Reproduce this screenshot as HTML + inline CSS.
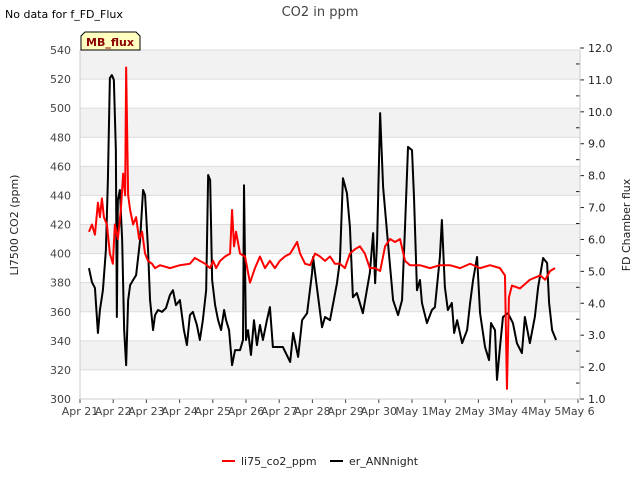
<!DOCTYPE html>
<html><head><meta charset="utf-8"><style>
body{margin:0;background:#fff;font-family:"Liberation Sans","DejaVu Sans",sans-serif}
</style></head><body>
<svg id="c" width="640" height="480" xmlns="http://www.w3.org/2000/svg" font-family="DejaVu Sans, Liberation Sans, sans-serif">
<text x="320" y="16" text-anchor="middle" font-size="13" fill="#444">CO2 in ppm</text>
<text x="5" y="18" font-size="11" fill="#000">No data for f_FD_Flux</text>
<g id="grid"></g><g id="series"></g><g id="axes"></g>
<g>
<path d="M81,50 L81,36 L85,32 L136,32 L140,36 L140,50 Z" fill="#ffffc0" stroke="#000" stroke-width="1"/>
<text x="110" y="46" text-anchor="middle" font-size="11" font-weight="bold" fill="#8b0000">MB_flux</text></g>
<text transform="translate(18,225) rotate(-90)" text-anchor="middle" font-size="11" fill="#222">LI7500 CO2 (ppm)</text>
<text transform="translate(630,225) rotate(-90)" text-anchor="middle" font-size="11" fill="#222">FD Chamber flux</text>
<g>
<line x1="222" y1="461" x2="235" y2="461" stroke="#f00" stroke-width="2"/>
<text x="241" y="465" font-size="11" fill="#222">li75_co2_ppm</text>
<line x1="330" y1="461" x2="343" y2="461" stroke="#000" stroke-width="2"/>
<text x="349" y="465" font-size="11" fill="#222">er_ANNnight</text></g>
</svg>
<script>
const xTickLabels=["Apr 21","Apr 22","Apr 23","Apr 24","Apr 25","Apr 26","Apr 27","Apr 28","Apr 29","Apr 30","May 1","May 2","May 3","May 4","May 5","May 6"];
const leftTicks=[300,320,340,360,380,400,420,440,460,480,500,520,540];
const rightTicks=[1,2,3,4,5,6,7,8,9,10,11,12];
const redT=[.27,.36,.45,.54,.60,.66,.72,.81,.90,.99,1.05,1.14,1.23,1.30,1.36,1.39,1.45,1.51,1.60,1.69,1.78,1.87,1.96,2.05,2.17,2.26,2.41,2.71,3.01,3.31,3.46,3.61,3.77,3.92,4.01,4.10,4.22,4.37,4.52,4.58,4.64,4.70,4.82,4.97,5.12,5.27,5.42,5.57,5.72,5.87,6.02,6.17,6.33,6.54,6.63,6.78,6.93,7.08,7.23,7.38,7.53,7.68,7.83,7.98,8.13,8.28,8.43,8.58,8.73,8.89,9.04,9.19,9.34,9.49,9.64,9.79,9.94,10.24,10.54,10.84,11.14,11.45,11.75,12.05,12.35,12.65,12.80,12.86,12.92,13.01,13.25,13.55,13.86,14.01,14.16,14.31];
const redV=[415,420,413,435,425,438,425,420,400,393,420,410,430,455,440,528,440,430,420,425,410,415,400,395,393,390,392,390,392,393,397,395,393,390,395,390,395,398,400,430,405,415,400,398,380,390,398,390,395,390,395,398,400,408,400,393,392,400,398,395,398,393,393,390,400,403,405,400,390,390,388,405,410,408,410,395,392,392,390,392,392,390,393,390,392,390,385,307,370,378,376,382,385,382,388,390];
const blkT=[.27,.36,.45,.54,.60,.69,.78,.84,.90,.96,1.02,1.08,1.11,1.14,1.20,1.27,1.33,1.39,1.45,1.51,1.60,1.69,1.81,1.90,1.96,2.05,2.11,2.20,2.26,2.35,2.47,2.59,2.71,2.80,2.89,3.01,3.13,3.22,3.31,3.40,3.52,3.61,3.70,3.80,3.86,3.92,3.98,4.07,4.16,4.25,4.34,4.40,4.49,4.58,4.67,4.82,4.91,4.94,5.00,5.06,5.15,5.24,5.33,5.42,5.51,5.63,5.72,5.81,6.11,6.33,6.42,6.57,6.69,6.84,6.99,7.02,7.08,7.29,7.38,7.53,7.74,7.83,7.92,8.04,8.13,8.22,8.34,8.52,8.73,8.83,8.89,8.95,9.04,9.13,9.25,9.43,9.58,9.70,9.79,9.88,10.00,10.06,10.15,10.24,10.30,10.45,10.60,10.69,10.78,10.84,10.90,10.99,11.08,11.20,11.27,11.36,11.51,11.66,11.75,11.84,11.96,12.05,12.20,12.32,12.38,12.50,12.56,12.65,12.74,12.89,13.04,13.16,13.31,13.40,13.55,13.70,13.80,13.95,14.07,14.13,14.22,14.34];
const blkV=[5.10,4.66,4.48,3.07,3.79,4.41,5.67,7.86,11.06,11.15,11.0,8.80,3.57,7.23,7.55,5.98,3.16,2.06,4.10,4.57,4.73,4.88,5.98,7.55,7.39,5.67,4.10,3.16,3.63,3.79,3.73,3.85,4.26,4.41,3.94,4.10,3.16,2.69,3.63,3.73,3.32,2.85,3.47,4.41,8.02,7.86,4.73,3.94,3.47,3.16,3.79,3.47,3.16,2.06,2.53,2.53,2.85,7.70,2.85,3.16,2.38,3.47,2.69,3.32,2.85,3.47,3.88,2.63,2.63,2.16,3.07,2.32,3.47,3.69,4.95,5.45,4.95,3.25,3.57,3.47,4.63,5.35,7.92,7.45,6.39,4.19,4.32,3.69,4.95,6.20,4.63,5.98,9.96,7.64,6.20,4.10,3.63,4.10,6.39,8.90,8.80,7.33,4.41,4.73,4.01,3.38,3.79,3.88,4.82,5.45,6.61,4.51,3.79,4.01,3.07,3.47,2.75,3.16,4.01,4.73,5.45,3.69,2.63,2.22,3.38,3.16,1.60,2.63,3.57,3.69,3.38,2.75,2.44,3.57,2.75,3.57,4.51,5.42,5.26,4.01,3.16,2.85];
const L=80,R=580,T=50,B=399;
const xS=d=>L+d*33.2;
const yL=v=>B-(v-300)/240*(B-T);
const yR=v=>B-(v-1)/11*(B-48);
const NS="http://www.w3.org/2000/svg";
function mk(tag,attrs,parent){const e=document.createElementNS(NS,tag);for(const k in attrs)e.setAttribute(k,attrs[k]);parent.appendChild(e);return e;}
const grid=document.getElementById('grid'),axes=document.getElementById('axes'),ser=document.getElementById('series');
for(let i=0;i<leftTicks.length-1;i++){
 if(i%2===1){const r=mk('rect',{x:L,y:yL(leftTicks[i+1]),width:R-L,height:yL(leftTicks[i])-yL(leftTicks[i+1]),fill:'#f2f2f2'},grid);
 
 }
}
leftTicks.forEach(v=>{const y=yL(v);
 const g=mk('line',{x1:L,x2:R,y1:y,y2:y,stroke:'#dcdcdc','stroke-width':1},grid);
 
 
 const t=mk('text',{x:L-9,y:y+4,'text-anchor':'end','font-size':11,fill:'#444'},axes);t.textContent=v;
 
 
});
rightTicks.forEach(v=>{const y=yR(v);
 const t=mk('text',{x:R+8,y:y+4,'font-size':11,fill:'#222'},axes);t.textContent=v.toFixed(1);
 
 
 mk('line',{x1:R,x2:R+4,y1:y,y2:y,stroke:'#222'},axes);
 if(v<12){const ym=yR(v+0.5);mk('line',{x1:R-4,x2:R,y1:ym,y2:ym,stroke:'#222'},axes);}
});
xTickLabels.forEach((s,i)=>{const x=xS(i);
 mk('line',{x1:x,x2:x,y1:B,y2:B+4,stroke:'#444'},axes);
 const t=mk('text',{x:x,y:B+16,'text-anchor':'middle','font-size':11,fill:'#444'},axes);t.textContent=s;
 
 
});
mk('line',{x1:L,x2:L,y1:T,y2:B,stroke:'#ccc'},axes);
mk('line',{x1:L,x2:R,y1:B,y2:B,stroke:'#ccc'},axes);
mk('line',{x1:R,x2:R,y1:T,y2:B,stroke:'#ccc'},axes);
const pb=mk('polyline',{points:blkT.map((t,i)=>xS(t)+','+yR(blkV[i])).join(' '),fill:'none',stroke:'#000','stroke-width':2,'stroke-linejoin':'round'},ser);


const pr=mk('polyline',{points:redT.map((t,i)=>xS(t)+','+yL(redV[i])).join(' '),fill:'none',stroke:'#f00','stroke-width':2,'stroke-linejoin':'round'},ser);


</script>
</body></html>
